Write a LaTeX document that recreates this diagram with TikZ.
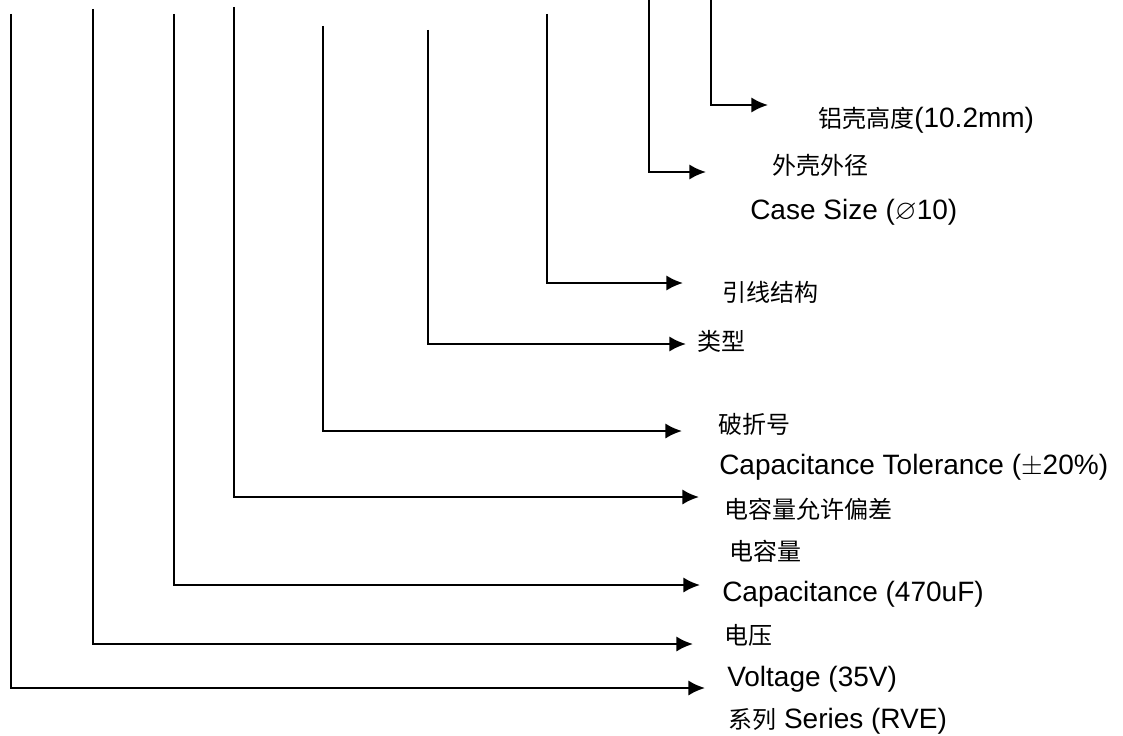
\documentclass[tikz,border=0pt]{standalone}
\usepackage{amssymb}
\usepackage{fontspec}
\setmainfont{Liberation Sans}
\newfontfamily\cjk{Noto Sans CJK SC}
\usepackage{tikz}
\usetikzlibrary{arrows.meta,positioning}

\tikzset{
  lead/.style={line width=1.8pt, -{Latex[length=12.5pt,width=11.5pt]}},
  lbl/.style={anchor=west, inner sep=0pt, font=\fontsize{21}{25}\selectfont},
  zh/.style={lbl, font=\fontsize{18}{22}\selectfont\cjk}
}

\begin{document}
\begin{tikzpicture}[x=0.75pt, y=-0.75pt]
    \useasboundingbox (0,0) rectangle (1123,735);

    % tops of the leads
    \coordinate (top1) at (11,14);
    \coordinate (top2) at (93,9);
    \coordinate (top3) at (174,14);
    \coordinate (top4) at (234,7);
    \coordinate (top5) at (323,26);
    \coordinate (top6) at (428,30);
    \coordinate (top7) at (547,14);
    \coordinate (top8) at (649,0);
    \coordinate (top9) at (711,0);

    % arrow tips
    \coordinate (tip1) at (705,688);
    \coordinate (tip2) at (693,644);
    \coordinate (tip3) at (700,585);
    \coordinate (tip4) at (699,497);
    \coordinate (tip5) at (682,431);
    \coordinate (tip6) at (686,344);
    \coordinate (tip7) at (683,283);
    \coordinate (tip8) at (706,172);
    \coordinate (tip9) at (768,105);

    % labels
    \node[lbl] (series) at (728,721) {{\cjk\fontsize{18}{22}\selectfont 系列} Series (RVE)};
    \node[lbl] (voltage) at (727,679) {Voltage (35V)};
    \node[zh] (voltzh) at (724,635) {电压};
    \node[lbl] (cap) at (722,594) {Capacitance (470uF)};
    \node[zh] (capzh) at (729,551) {电容量};
    \node[zh] (tolzh) at (724,509) {电容量允许偏差};
    \node[lbl] (tol) at (719,467) {Capacitance Tolerance ($\pm$20\%)};
    \node[zh] (dash) at (718,424) {破折号};
    \node[zh] (type) at (697,341) {类型};
    \node[zh] (leadzh) at (722,292) {引线结构};
    \node[lbl] (case) at (750,212) {Case Size ($\varnothing$10)};
    \node[zh] (casezh) at (772,165) {外壳外径};
    \node[lbl] (height) at (818,120) {{\cjk\fontsize{18}{22}\selectfont 铝壳高度}(10.2mm)};

    % leads
    \draw[lead] (top1) |- (tip1);
    \draw[lead] (top2) |- (tip2);
    \draw[lead] (top3) |- (tip3);
    \draw[lead] (top4) |- (tip4);
    \draw[lead] (top5) |- (tip5);
    \draw[lead] (top6) |- (tip6);
    \draw[lead] (top7) |- (tip7);
    \draw[lead] (top8) |- (tip8);
    \draw[lead] (top9) |- (tip9);
\end{tikzpicture}
\end{document}
